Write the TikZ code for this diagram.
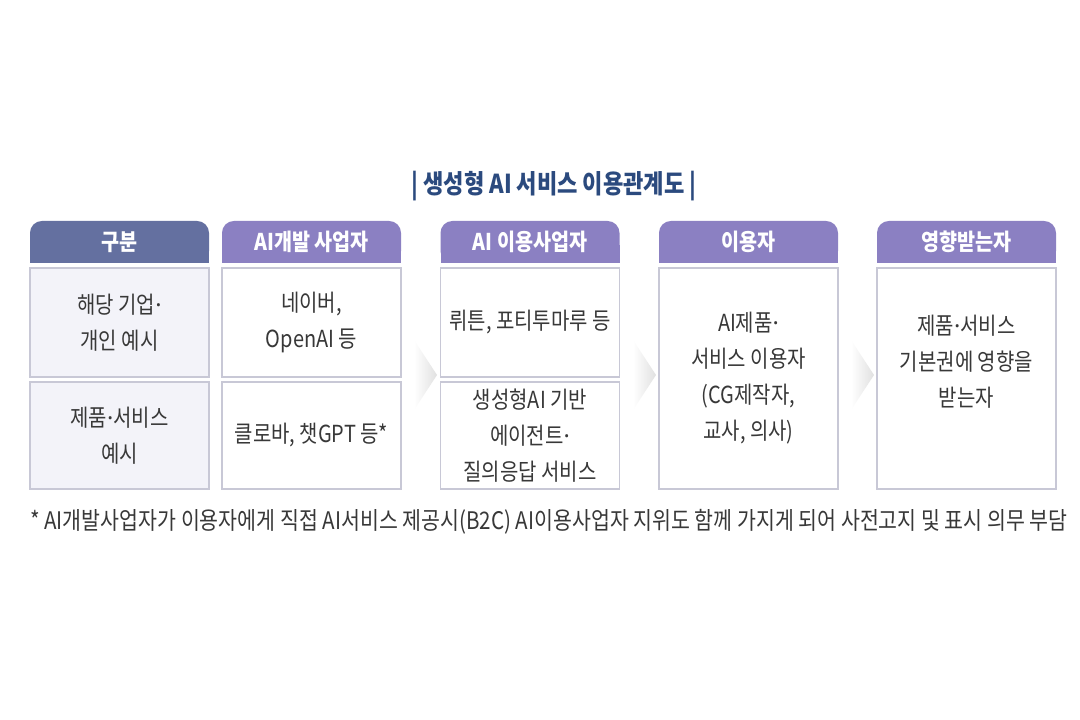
\documentclass[tikz,border=0pt]{standalone}
\usepackage{fontspec}
\setmainfont{Noto Sans CJK KR}[FakeStretch=0.85]
\newfontfamily\dotfont{Noto Sans}
\newcommand\middot{{\dotfont ·}}
\usetikzlibrary{positioning}
\definecolor{titleblue}{HTML}{2B4A7E}
\definecolor{hdslate}{HTML}{6470A0}
\definecolor{hdpurple}{HTML}{8B80C2}
\definecolor{cellline}{HTML}{C8C8D6}
\definecolor{cellfill}{HTML}{F3F3F9}
\definecolor{txtgray}{HTML}{383838}
\begin{document}
\begin{tikzpicture}[x=0.025cm,y=0.025cm,
  cell/.style={draw=cellline, line width=0.9pt, fill=white, minimum width=4.475cm,
    align=center, text=txtgray, font=\fontsize{16.7}{25.6}\selectfont, inner sep=0pt},
  hdtext/.style={text=white, font=\bfseries\fontsize{16.4}{18}\selectfont}]

\fill[white] (0,0) rectangle (1080,720);
\useasboundingbox (0,0) rectangle (1080,720);

\node[text=titleblue, font=\bfseries\fontsize{18.5}{20}\selectfont] (title) at (554,534)
  {| 생성형 AI 서비스 이용관계도 |};

% column heads
\foreach \x/\c/\t [count=\i] in {119.5/hdslate/구분, 311.5/hdpurple/AI개발 사업자,
    530/hdpurple/AI 이용사업자, 748.5/hdpurple/이용자, 966.5/hdpurple/영향받는자} {
  \fill[\c, rounded corners=8.5pt] (\x-89.5,457) rectangle (\x+89.5,499);
  \fill[\c] (\x-89.5,457) rectangle (\x+89.5,475);
  \node[hdtext] (h\i) at (\x,478) {\t};
}

% cells
\node[cell, fill=cellfill, minimum height=2.725cm] (a1) at (119.5,397.5) {해당 기업\middot\\개인 예시};
\node[cell, fill=cellfill, minimum height=2.675cm] (b1) at (119.5,284.5) {제품\middot 서비스\\예시};
\node[cell, minimum height=2.725cm] (a2) at (311.5,397.5) {네이버,\\OpenAI 등};
\node[cell, minimum height=2.675cm] (b2) at (311.5,284.5) {클로바, 챗GPT 등*};
\node[cell, minimum height=2.725cm] (a3) at (530,397.5) {뤼튼, 포티투마루 등};
\node[cell, minimum height=2.675cm] (b3) at (530,284.5) {생성형AI 기반\\에이전트\middot\\질의응답 서비스};
\node[cell, minimum height=5.525cm] (c4) at (748.5,341.5) {AI제품\middot\\서비스 이용자\\(CG제작자,\\교사, 의사)};
\node[cell, minimum height=5.525cm] (c5) at (966.5,341.5) {};
\node[cell, draw=none, fill=none] (t5) at (966.5,358) {제품\middot 서비스\\기본권에 영향을\\받는자};

% chevrons
\foreach \x in {414,633,851}
  \shade[left color=white, right color=black!12] (\x,380) -- (\x+23,345) -- (\x,310) -- cycle;

\node[anchor=west, inner sep=0pt, text=txtgray, font=\fontsize{17.2}{19}\selectfont] (note) at (30,198)
  {* AI개발사업자가 이용자에게 직접 AI서비스 제공시(B2C) AI이용사업자 지위도 함께 가지게 되어 사전고지 및 표시 의무 부담};
\end{tikzpicture}
\end{document}
